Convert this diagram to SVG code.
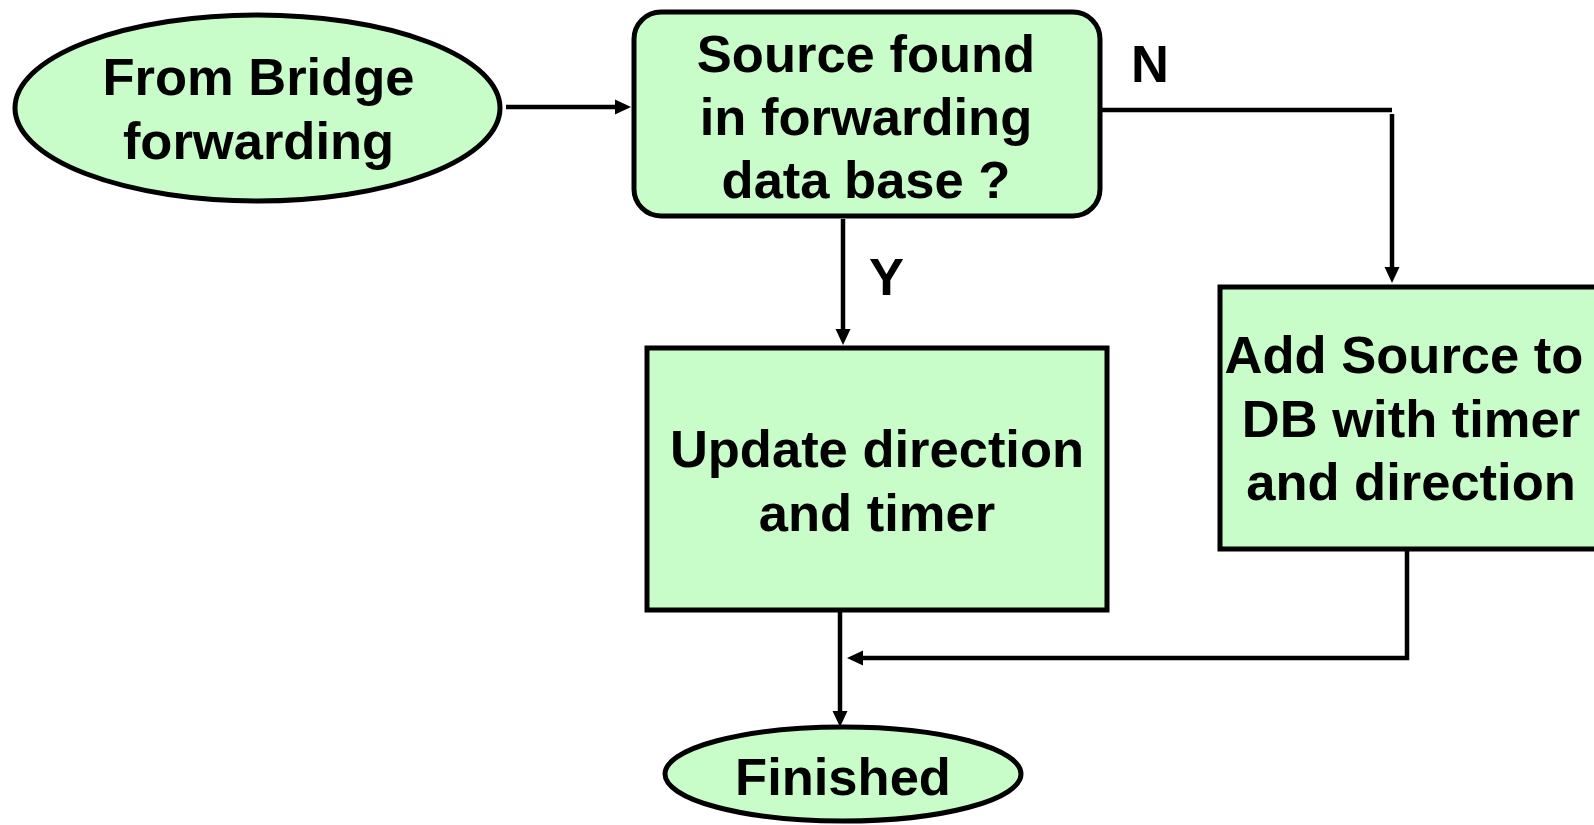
<svg xmlns="http://www.w3.org/2000/svg" width="1594" height="825" viewBox="0 0 1594 825">
<style>
.node{fill:#c8fcc8;stroke:#000;stroke-width:5}
.conn{fill:none;stroke:#000;stroke-width:4.5}
text{font-family:"Liberation Sans",Arial,Helvetica,sans-serif;font-weight:bold;font-size:52.5px;fill:#000}
.c{text-anchor:middle}
</style>
<defs>
<marker id="ah" markerUnits="userSpaceOnUse" markerWidth="17" markerHeight="16" refX="6" refY="8" orient="auto">
<path d="M0,0.5 L16,8 L0,15.5 z" fill="#000"/>
</marker>
</defs>
<rect width="1594" height="825" fill="#fff"/>
<g id="connectors">
<line class="conn" x1="506" y1="107" x2="621" y2="107" marker-end="url(#ah)"/>
<line class="conn" x1="1102" y1="110" x2="1392" y2="110"/>
<line class="conn" x1="1392" y1="114" x2="1392" y2="273" marker-end="url(#ah)"/>
<line class="conn" x1="843" y1="219" x2="843" y2="335" marker-end="url(#ah)"/>
<line class="conn" x1="840" y1="610" x2="840" y2="717" marker-end="url(#ah)"/>
<polyline class="conn" points="1407,549 1407,658 857,658" marker-end="url(#ah)"/>
<text x="1131" y="82">N</text>
<text x="869" y="295">Y</text>
</g>
<g id="from-bridge">
<ellipse class="node" cx="257.5" cy="108" rx="242.5" ry="93"/>
<text class="c" x="258.5" y="95">From Bridge</text>
<text class="c" x="258.5" y="159">forwarding</text>
</g>
<g id="source-found">
<rect class="node" x="634" y="12" width="466" height="204" rx="27" ry="27"/>
<text class="c" x="866" y="72">Source found</text>
<text class="c" x="866" y="135">in forwarding</text>
<text class="c" x="866" y="198">data base ?</text>
</g>
<g id="update">
<rect class="node" x="647" y="348" width="460" height="262"/>
<text class="c" x="877" y="467">Update direction</text>
<text class="c" x="877" y="531">and timer</text>
</g>
<g id="add-source">
<rect class="node" x="1220" y="287" width="390" height="262"/>
<text class="c" x="1404" y="373">Add Source to</text>
<text class="c" x="1411" y="437">DB with timer</text>
<text class="c" x="1411" y="500">and direction</text>
</g>
<g id="finished">
<ellipse class="node" cx="843" cy="774" rx="178" ry="47"/>
<text class="c" x="843" y="795">Finished</text>
</g>
</svg>
